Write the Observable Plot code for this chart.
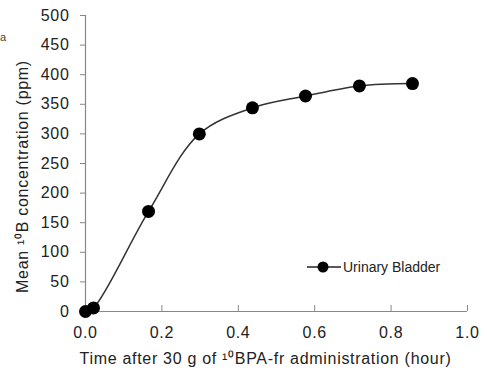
<!DOCTYPE html>
<html>
<head>
<meta charset="utf-8">
<script src="https://cdn.jsdelivr.net/npm/d3@7"></script>
<script src="https://cdn.jsdelivr.net/npm/@observablehq/plot@0.6"></script>
<style>
  html, body { margin: 0; padding: 0; background: #fff; }
  #wrap { position: relative; width: 487px; height: 370px; overflow: hidden; font-family: "Liberation Sans", Arial, sans-serif; }
  #wrap svg text { letter-spacing: 0.7px; }
  #legend { position: absolute; left: 306px; top: 259px; display: flex; align-items: center; font-family: "Liberation Sans Narrow", "Liberation Sans", sans-serif; font-size: 14px; color: #222; }
  #panel { position: absolute; left: 0px; top: 31px; font-size: 11px; color: #444; }
</style>
</head>
<body>
<div id="wrap"></div>
<script>
const seriesName = "Urinary Bladder";
const xLabel = "Time after 30 g of \u00b9\u2070BPA-fr administration (hour)";
const yLabel = "Mean \u00b9\u2070B concentration (ppm)";
const timeHours = [0, 0.021, 0.165, 0.298, 0.437, 0.576, 0.717, 0.856];
const boronPpm = [0, 6, 169, 300, 344, 364, 381, 385];
const xTicks = [0, 0.2, 0.4, 0.6, 0.8, 1.0];
const yTicks = [0, 50, 100, 150, 200, 250, 300, 350, 400, 450, 500];

const data = timeHours.map((t, i) => ({t, v: boronPpm[i]}));

const chart = Plot.plot({
  width: 487,
  height: 370,
  marginLeft: 85,
  marginRight: 20,
  marginTop: 15,
  marginBottom: 59,
  style: {fontFamily: "Liberation Sans, Arial, sans-serif", fontSize: "16px", color: "#222", background: "#fff"},
  x: {domain: [0, 1]},
  y: {domain: [0, 500]},
  marks: [
    Plot.axisX({ticks: xTicks, tickFormat: d3.format(".1f"), tickSize: 0, tickPadding: 15, fontSize: 16, label: null}),
    Plot.text([xLabel], {text: d => d, frameAnchor: "bottom", textAnchor: "middle", dx: -11, dy: 52, fontSize: 16, fill: "#222"}),
    Plot.ruleX(xTicks, {x: d => d, y1: 0, y2: 10, stroke: "#888", strokeWidth: 1}),
    Plot.axisY({ticks: yTicks, tickSize: 5, tickPadding: 11, stroke: "#888", fontSize: 16, label: null}),
    Plot.text([yLabel], {text: d => d, frameAnchor: "left", textAnchor: "middle", rotate: -90, dx: -63, dy: 13, fontSize: 16, fill: "#222"}),
    Plot.ruleY([0], {stroke: "#888", strokeWidth: 1.2}),
    Plot.ruleX([0], {stroke: "#888", strokeWidth: 1.2}),
    Plot.line(data, {x: "t", y: "v", curve: "catmull-rom", stroke: "#333", strokeWidth: 1.5}),
    Plot.dot(data, {x: "t", y: "v", r: 6.5, fill: "#000"})
  ]
});

document.getElementById("wrap").appendChild(chart);

const legend = document.createElement("div");
legend.id = "legend";
legend.innerHTML = `<svg width="36" height="16"><line x1="1" y1="8" x2="35" y2="8" stroke="#222" stroke-width="1.6"/><circle cx="17" cy="8" r="5.5" fill="#000"/></svg><span style="margin-left:1px">${seriesName}</span>`;
document.getElementById("wrap").appendChild(legend);

const panel = document.createElement("div");
panel.id = "panel";
panel.textContent = "a";
document.getElementById("wrap").appendChild(panel);
</script>
</body>
</html>
